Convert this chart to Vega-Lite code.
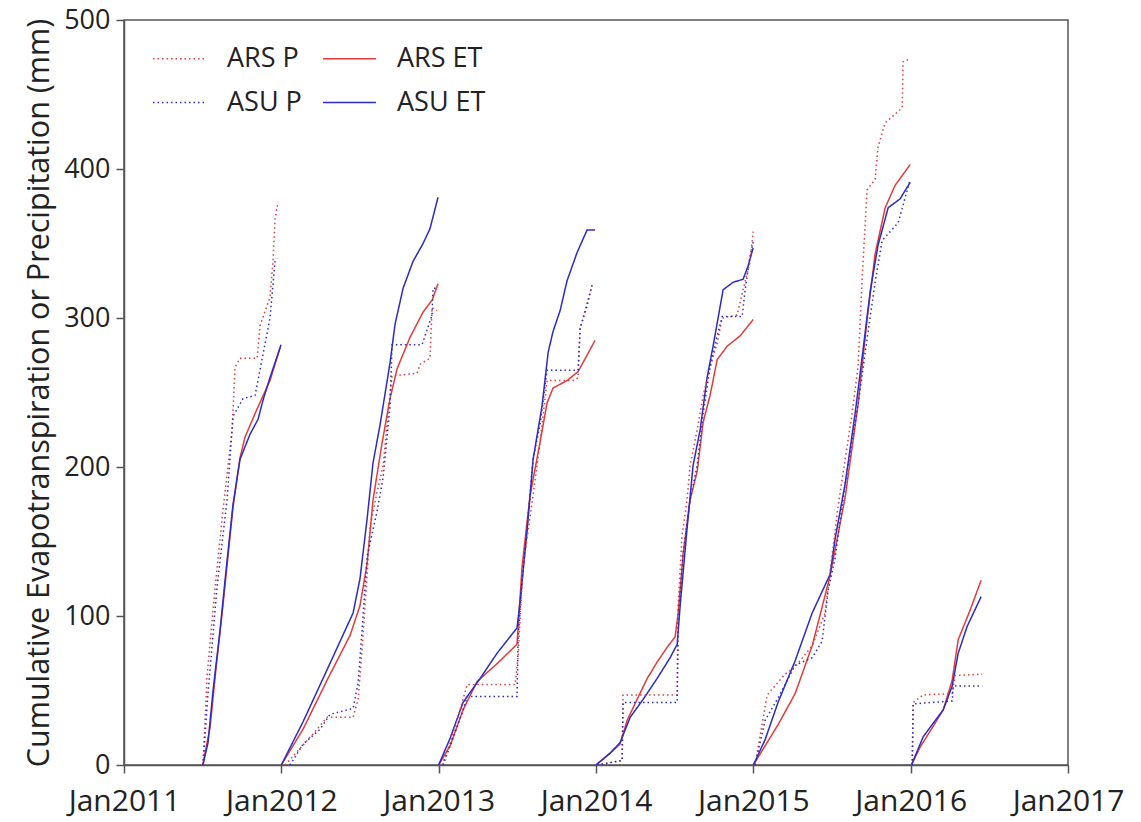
{
  "$schema": "https://vega.github.io/schema/vega-lite/v6.json",
  "width": 944,
  "height": 745,
  "autosize": {"type": "none"},
  "padding": {"left": 124, "top": 20, "right": 73, "bottom": 57},
  "background": "white",
  "datasets": {
    "pts": [
      {"s":"ARS ET","g":2011,"t":2011.500,"v":0},{"s":"ARS ET","g":2011,"t":2011.547,"v":25},{"s":"ARS ET","g":2011,"t":2011.585,"v":65},{"s":"ARS ET","g":2011,"t":2011.629,"v":107},{"s":"ARS ET","g":2011,"t":2011.693,"v":173},{"s":"ARS ET","g":2011,"t":2011.737,"v":206},{"s":"ARS ET","g":2011,"t":2011.769,"v":220},{"s":"ARS ET","g":2011,"t":2011.846,"v":239},{"s":"ARS ET","g":2011,"t":2011.928,"v":258},{"s":"ARS ET","g":2011,"t":2011.992,"v":280},
      {"s":"ASU ET","g":2011,"t":2011.502,"v":0},{"s":"ASU ET","g":2011,"t":2011.534,"v":15},{"s":"ASU ET","g":2011,"t":2011.566,"v":50},{"s":"ASU ET","g":2011,"t":2011.610,"v":90},{"s":"ASU ET","g":2011,"t":2011.648,"v":130},{"s":"ASU ET","g":2011,"t":2011.693,"v":175},{"s":"ASU ET","g":2011,"t":2011.737,"v":205},{"s":"ASU ET","g":2011,"t":2011.801,"v":222},{"s":"ASU ET","g":2011,"t":2011.852,"v":232},{"s":"ASU ET","g":2011,"t":2011.884,"v":245},{"s":"ASU ET","g":2011,"t":2011.928,"v":260},{"s":"ASU ET","g":2011,"t":2011.998,"v":282},
      {"s":"ARS P","g":2011,"t":2011.502,"v":0},{"s":"ARS P","g":2011,"t":2011.528,"v":60},{"s":"ARS P","g":2011,"t":2011.579,"v":119},{"s":"ARS P","g":2011,"t":2011.629,"v":171},{"s":"ARS P","g":2011,"t":2011.687,"v":225},{"s":"ARS P","g":2011,"t":2011.706,"v":267},{"s":"ARS P","g":2011,"t":2011.737,"v":273},{"s":"ARS P","g":2011,"t":2011.846,"v":273},{"s":"ARS P","g":2011,"t":2011.865,"v":295},{"s":"ARS P","g":2011,"t":2011.928,"v":314},{"s":"ARS P","g":2011,"t":2011.947,"v":338},{"s":"ARS P","g":2011,"t":2011.960,"v":366},{"s":"ARS P","g":2011,"t":2011.979,"v":378},
      {"s":"ASU P","g":2011,"t":2011.502,"v":0},{"s":"ASU P","g":2011,"t":2011.534,"v":48},{"s":"ASU P","g":2011,"t":2011.591,"v":119},{"s":"ASU P","g":2011,"t":2011.655,"v":178},{"s":"ASU P","g":2011,"t":2011.693,"v":234},{"s":"ASU P","g":2011,"t":2011.757,"v":246},{"s":"ASU P","g":2011,"t":2011.833,"v":248},{"s":"ASU P","g":2011,"t":2011.877,"v":272},{"s":"ASU P","g":2011,"t":2011.928,"v":300},{"s":"ASU P","g":2011,"t":2011.960,"v":338},{"s":"ASU P","g":2011,"t":2011.973,"v":340},

      {"s":"ARS ET","g":2012,"t":2012.000,"v":0},{"s":"ARS ET","g":2012,"t":2012.138,"v":24},{"s":"ARS ET","g":2012,"t":2012.291,"v":57},{"s":"ARS ET","g":2012,"t":2012.437,"v":87},{"s":"ARS ET","g":2012,"t":2012.500,"v":107},{"s":"ARS ET","g":2012,"t":2012.545,"v":135},{"s":"ARS ET","g":2012,"t":2012.583,"v":178},{"s":"ARS ET","g":2012,"t":2012.640,"v":216},{"s":"ARS ET","g":2012,"t":2012.691,"v":246},{"s":"ARS ET","g":2012,"t":2012.736,"v":266},{"s":"ARS ET","g":2012,"t":2012.818,"v":287},{"s":"ARS ET","g":2012,"t":2012.901,"v":304},{"s":"ARS ET","g":2012,"t":2012.958,"v":312},{"s":"ARS ET","g":2012,"t":2012.996,"v":323},
      {"s":"ASU ET","g":2012,"t":2012.000,"v":0},{"s":"ASU ET","g":2012,"t":2012.138,"v":29},{"s":"ASU ET","g":2012,"t":2012.291,"v":64},{"s":"ASU ET","g":2012,"t":2012.456,"v":102},{"s":"ASU ET","g":2012,"t":2012.500,"v":125},{"s":"ASU ET","g":2012,"t":2012.545,"v":165},{"s":"ASU ET","g":2012,"t":2012.583,"v":203},{"s":"ASU ET","g":2012,"t":2012.627,"v":228},{"s":"ASU ET","g":2012,"t":2012.691,"v":270},{"s":"ASU ET","g":2012,"t":2012.723,"v":296},{"s":"ASU ET","g":2012,"t":2012.774,"v":320},{"s":"ASU ET","g":2012,"t":2012.837,"v":338},{"s":"ASU ET","g":2012,"t":2012.901,"v":350},{"s":"ASU ET","g":2012,"t":2012.945,"v":360},{"s":"ASU ET","g":2012,"t":2012.996,"v":381},
      {"s":"ARS P","g":2012,"t":2012.024,"v":0},{"s":"ARS P","g":2012,"t":2012.119,"v":11},{"s":"ARS P","g":2012,"t":2012.202,"v":21},{"s":"ARS P","g":2012,"t":2012.291,"v":32},{"s":"ARS P","g":2012,"t":2012.456,"v":32},{"s":"ARS P","g":2012,"t":2012.488,"v":44},{"s":"ARS P","g":2012,"t":2012.513,"v":77},{"s":"ARS P","g":2012,"t":2012.545,"v":127},{"s":"ARS P","g":2012,"t":2012.564,"v":160},{"s":"ARS P","g":2012,"t":2012.608,"v":183},{"s":"ARS P","g":2012,"t":2012.647,"v":201},{"s":"ARS P","g":2012,"t":2012.678,"v":236},{"s":"ARS P","g":2012,"t":2012.704,"v":261},{"s":"ARS P","g":2012,"t":2012.863,"v":263},{"s":"ARS P","g":2012,"t":2012.882,"v":269},{"s":"ARS P","g":2012,"t":2012.945,"v":273},{"s":"ARS P","g":2012,"t":2012.958,"v":307},{"s":"ARS P","g":2012,"t":2012.990,"v":305},
      {"s":"ASU P","g":2012,"t":2012.055,"v":0},{"s":"ASU P","g":2012,"t":2012.138,"v":14},{"s":"ASU P","g":2012,"t":2012.246,"v":24},{"s":"ASU P","g":2012,"t":2012.310,"v":34},{"s":"ASU P","g":2012,"t":2012.456,"v":38},{"s":"ASU P","g":2012,"t":2012.488,"v":55},{"s":"ASU P","g":2012,"t":2012.513,"v":90},{"s":"ASU P","g":2012,"t":2012.545,"v":140},{"s":"ASU P","g":2012,"t":2012.608,"v":170},{"s":"ASU P","g":2012,"t":2012.647,"v":193},{"s":"ASU P","g":2012,"t":2012.691,"v":241},{"s":"ASU P","g":2012,"t":2012.704,"v":282},{"s":"ASU P","g":2012,"t":2012.894,"v":282},{"s":"ASU P","g":2012,"t":2012.926,"v":292},{"s":"ASU P","g":2012,"t":2012.958,"v":302},{"s":"ASU P","g":2012,"t":2012.964,"v":320},{"s":"ASU P","g":2012,"t":2012.996,"v":320},

      {"s":"ARS ET","g":2013,"t":2013.000,"v":0},{"s":"ARS ET","g":2013,"t":2013.073,"v":13},{"s":"ARS ET","g":2013,"t":2013.155,"v":37},{"s":"ARS ET","g":2013,"t":2013.244,"v":56},{"s":"ARS ET","g":2013,"t":2013.371,"v":68},{"s":"ARS ET","g":2013,"t":2013.498,"v":81},{"s":"ARS ET","g":2013,"t":2013.530,"v":133},{"s":"ARS ET","g":2013,"t":2013.581,"v":181},{"s":"ARS ET","g":2013,"t":2013.645,"v":217},{"s":"ARS ET","g":2013,"t":2013.689,"v":243},{"s":"ARS ET","g":2013,"t":2013.727,"v":253},{"s":"ARS ET","g":2013,"t":2013.816,"v":258},{"s":"ARS ET","g":2013,"t":2013.886,"v":264},{"s":"ARS ET","g":2013,"t":2013.943,"v":275},{"s":"ARS ET","g":2013,"t":2013.994,"v":285},
      {"s":"ASU ET","g":2013,"t":2013.000,"v":0},{"s":"ASU ET","g":2013,"t":2013.073,"v":18},{"s":"ASU ET","g":2013,"t":2013.155,"v":42},{"s":"ASU ET","g":2013,"t":2013.263,"v":58},{"s":"ASU ET","g":2013,"t":2013.371,"v":75},{"s":"ASU ET","g":2013,"t":2013.498,"v":92},{"s":"ASU ET","g":2013,"t":2013.517,"v":109},{"s":"ASU ET","g":2013,"t":2013.562,"v":157},{"s":"ASU ET","g":2013,"t":2013.600,"v":205},{"s":"ASU ET","g":2013,"t":2013.657,"v":241},{"s":"ASU ET","g":2013,"t":2013.696,"v":277},{"s":"ASU ET","g":2013,"t":2013.727,"v":291},{"s":"ASU ET","g":2013,"t":2013.772,"v":305},{"s":"ASU ET","g":2013,"t":2013.816,"v":325},{"s":"ASU ET","g":2013,"t":2013.880,"v":344},{"s":"ASU ET","g":2013,"t":2013.943,"v":359},{"s":"ASU ET","g":2013,"t":2013.994,"v":359},
      {"s":"ARS P","g":2013,"t":2013.022,"v":0},{"s":"ARS P","g":2013,"t":2013.073,"v":15},{"s":"ARS P","g":2013,"t":2013.136,"v":37},{"s":"ARS P","g":2013,"t":2013.181,"v":54},{"s":"ARS P","g":2013,"t":2013.486,"v":54},{"s":"ARS P","g":2013,"t":2013.505,"v":73},{"s":"ARS P","g":2013,"t":2013.517,"v":97},{"s":"ARS P","g":2013,"t":2013.537,"v":133},{"s":"ARS P","g":2013,"t":2013.600,"v":181},{"s":"ARS P","g":2013,"t":2013.645,"v":217},{"s":"ARS P","g":2013,"t":2013.689,"v":258},{"s":"ARS P","g":2013,"t":2013.854,"v":258},{"s":"ARS P","g":2013,"t":2013.886,"v":260},{"s":"ARS P","g":2013,"t":2013.899,"v":293},{"s":"ARS P","g":2013,"t":2013.943,"v":310},{"s":"ARS P","g":2013,"t":2013.975,"v":322},
      {"s":"ASU P","g":2013,"t":2013.028,"v":0},{"s":"ASU P","g":2013,"t":2013.092,"v":18},{"s":"ASU P","g":2013,"t":2013.155,"v":37},{"s":"ASU P","g":2013,"t":2013.181,"v":46},{"s":"ASU P","g":2013,"t":2013.498,"v":46},{"s":"ASU P","g":2013,"t":2013.505,"v":85},{"s":"ASU P","g":2013,"t":2013.537,"v":133},{"s":"ASU P","g":2013,"t":2013.581,"v":181},{"s":"ASU P","g":2013,"t":2013.600,"v":205},{"s":"ASU P","g":2013,"t":2013.645,"v":229},{"s":"ASU P","g":2013,"t":2013.689,"v":265},{"s":"ASU P","g":2013,"t":2013.886,"v":265},{"s":"ASU P","g":2013,"t":2013.899,"v":293},{"s":"ASU P","g":2013,"t":2013.943,"v":308},{"s":"ASU P","g":2013,"t":2013.975,"v":322},

      {"s":"ARS ET","g":2014,"t":2014.000,"v":0},{"s":"ARS ET","g":2014,"t":2014.090,"v":8},{"s":"ARS ET","g":2014,"t":2014.153,"v":14},{"s":"ARS ET","g":2014,"t":2014.198,"v":30},{"s":"ARS ET","g":2014,"t":2014.261,"v":44},{"s":"ARS ET","g":2014,"t":2014.325,"v":58},{"s":"ARS ET","g":2014,"t":2014.388,"v":69},{"s":"ARS ET","g":2014,"t":2014.452,"v":79},{"s":"ARS ET","g":2014,"t":2014.503,"v":86},{"s":"ARS ET","g":2014,"t":2014.522,"v":102},{"s":"ARS ET","g":2014,"t":2014.554,"v":142},{"s":"ARS ET","g":2014,"t":2014.598,"v":178},{"s":"ARS ET","g":2014,"t":2014.643,"v":197},{"s":"ARS ET","g":2014,"t":2014.681,"v":230},{"s":"ARS ET","g":2014,"t":2014.725,"v":248},{"s":"ARS ET","g":2014,"t":2014.770,"v":272},{"s":"ARS ET","g":2014,"t":2014.833,"v":281},{"s":"ARS ET","g":2014,"t":2014.916,"v":288},{"s":"ARS ET","g":2014,"t":2014.999,"v":299},
      {"s":"ASU ET","g":2014,"t":2014.000,"v":0},{"s":"ASU ET","g":2014,"t":2014.090,"v":8},{"s":"ASU ET","g":2014,"t":2014.153,"v":15},{"s":"ASU ET","g":2014,"t":2014.217,"v":32},{"s":"ASU ET","g":2014,"t":2014.299,"v":44},{"s":"ASU ET","g":2014,"t":2014.388,"v":58},{"s":"ASU ET","g":2014,"t":2014.471,"v":72},{"s":"ASU ET","g":2014,"t":2014.516,"v":81},{"s":"ASU ET","g":2014,"t":2014.535,"v":107},{"s":"ASU ET","g":2014,"t":2014.579,"v":159},{"s":"ASU ET","g":2014,"t":2014.617,"v":201},{"s":"ASU ET","g":2014,"t":2014.662,"v":225},{"s":"ASU ET","g":2014,"t":2014.706,"v":260},{"s":"ASU ET","g":2014,"t":2014.744,"v":281},{"s":"ASU ET","g":2014,"t":2014.776,"v":300},{"s":"ASU ET","g":2014,"t":2014.808,"v":319},{"s":"ASU ET","g":2014,"t":2014.872,"v":324},{"s":"ASU ET","g":2014,"t":2014.935,"v":326},{"s":"ASU ET","g":2014,"t":2014.967,"v":335},{"s":"ASU ET","g":2014,"t":2014.999,"v":347},
      {"s":"ARS P","g":2014,"t":2014.007,"v":0},{"s":"ARS P","g":2014,"t":2014.166,"v":3},{"s":"ARS P","g":2014,"t":2014.172,"v":47},{"s":"ARS P","g":2014,"t":2014.516,"v":47},{"s":"ARS P","g":2014,"t":2014.522,"v":107},{"s":"ARS P","g":2014,"t":2014.547,"v":154},{"s":"ARS P","g":2014,"t":2014.579,"v":178},{"s":"ARS P","g":2014,"t":2014.598,"v":201},{"s":"ARS P","g":2014,"t":2014.643,"v":225},{"s":"ARS P","g":2014,"t":2014.681,"v":248},{"s":"ARS P","g":2014,"t":2014.725,"v":267},{"s":"ARS P","g":2014,"t":2014.770,"v":283},{"s":"ARS P","g":2014,"t":2014.802,"v":300},{"s":"ARS P","g":2014,"t":2014.897,"v":302},{"s":"ARS P","g":2014,"t":2014.935,"v":319},{"s":"ARS P","g":2014,"t":2014.980,"v":338},{"s":"ARS P","g":2014,"t":2014.999,"v":358},
      {"s":"ASU P","g":2014,"t":2014.007,"v":0},{"s":"ASU P","g":2014,"t":2014.166,"v":3},{"s":"ASU P","g":2014,"t":2014.172,"v":42},{"s":"ASU P","g":2014,"t":2014.516,"v":42},{"s":"ASU P","g":2014,"t":2014.522,"v":95},{"s":"ASU P","g":2014,"t":2014.554,"v":142},{"s":"ASU P","g":2014,"t":2014.598,"v":178},{"s":"ASU P","g":2014,"t":2014.643,"v":201},{"s":"ASU P","g":2014,"t":2014.681,"v":236},{"s":"ASU P","g":2014,"t":2014.725,"v":267},{"s":"ASU P","g":2014,"t":2014.770,"v":288},{"s":"ASU P","g":2014,"t":2014.802,"v":301},{"s":"ASU P","g":2014,"t":2014.929,"v":301},{"s":"ASU P","g":2014,"t":2014.948,"v":319},{"s":"ASU P","g":2014,"t":2014.980,"v":342},{"s":"ASU P","g":2014,"t":2014.999,"v":351},

      {"s":"ARS ET","g":2015,"t":2015.000,"v":0},{"s":"ARS ET","g":2015,"t":2015.157,"v":27},{"s":"ARS ET","g":2015,"t":2015.266,"v":48},{"s":"ARS ET","g":2015,"t":2015.374,"v":80},{"s":"ARS ET","g":2015,"t":2015.488,"v":127},{"s":"ARS ET","g":2015,"t":2015.584,"v":180},{"s":"ARS ET","g":2015,"t":2015.666,"v":242},{"s":"ARS ET","g":2015,"t":2015.723,"v":299},{"s":"ARS ET","g":2015,"t":2015.774,"v":343},{"s":"ARS ET","g":2015,"t":2015.838,"v":374},{"s":"ARS ET","g":2015,"t":2015.901,"v":389},{"s":"ARS ET","g":2015,"t":2015.997,"v":403},
      {"s":"ASU ET","g":2015,"t":2015.000,"v":0},{"s":"ASU ET","g":2015,"t":2015.075,"v":17},{"s":"ASU ET","g":2015,"t":2015.157,"v":42},{"s":"ASU ET","g":2015,"t":2015.266,"v":70},{"s":"ASU ET","g":2015,"t":2015.374,"v":102},{"s":"ASU ET","g":2015,"t":2015.488,"v":128},{"s":"ASU ET","g":2015,"t":2015.520,"v":152},{"s":"ASU ET","g":2015,"t":2015.584,"v":189},{"s":"ASU ET","g":2015,"t":2015.647,"v":236},{"s":"ASU ET","g":2015,"t":2015.692,"v":274},{"s":"ASU ET","g":2015,"t":2015.743,"v":318},{"s":"ASU ET","g":2015,"t":2015.793,"v":349},{"s":"ASU ET","g":2015,"t":2015.857,"v":374},{"s":"ASU ET","g":2015,"t":2015.933,"v":380},{"s":"ASU ET","g":2015,"t":2015.997,"v":391},
      {"s":"ARS P","g":2015,"t":2015.011,"v":0},{"s":"ARS P","g":2015,"t":2015.088,"v":47},{"s":"ARS P","g":2015,"t":2015.202,"v":61},{"s":"ARS P","g":2015,"t":2015.266,"v":66},{"s":"ARS P","g":2015,"t":2015.374,"v":80},{"s":"ARS P","g":2015,"t":2015.456,"v":102},{"s":"ARS P","g":2015,"t":2015.488,"v":130},{"s":"ARS P","g":2015,"t":2015.539,"v":174},{"s":"ARS P","g":2015,"t":2015.628,"v":236},{"s":"ARS P","g":2015,"t":2015.666,"v":268},{"s":"ARS P","g":2015,"t":2015.692,"v":327},{"s":"ARS P","g":2015,"t":2015.723,"v":386},{"s":"ARS P","g":2015,"t":2015.774,"v":393},{"s":"ARS P","g":2015,"t":2015.793,"v":415},{"s":"ARS P","g":2015,"t":2015.838,"v":431},{"s":"ARS P","g":2015,"t":2015.946,"v":441},{"s":"ARS P","g":2015,"t":2015.952,"v":472},{"s":"ARS P","g":2015,"t":2015.997,"v":474},
      {"s":"ASU P","g":2015,"t":2015.011,"v":0},{"s":"ASU P","g":2015,"t":2015.075,"v":30},{"s":"ASU P","g":2015,"t":2015.157,"v":45},{"s":"ASU P","g":2015,"t":2015.266,"v":67},{"s":"ASU P","g":2015,"t":2015.374,"v":72},{"s":"ASU P","g":2015,"t":2015.437,"v":83},{"s":"ASU P","g":2015,"t":2015.475,"v":117},{"s":"ASU P","g":2015,"t":2015.520,"v":139},{"s":"ASU P","g":2015,"t":2015.584,"v":189},{"s":"ASU P","g":2015,"t":2015.666,"v":242},{"s":"ASU P","g":2015,"t":2015.723,"v":286},{"s":"ASU P","g":2015,"t":2015.774,"v":324},{"s":"ASU P","g":2015,"t":2015.819,"v":352},{"s":"ASU P","g":2015,"t":2015.921,"v":364},{"s":"ASU P","g":2015,"t":2015.997,"v":393},

      {"s":"ARS ET","g":2016,"t":2016.005,"v":0},{"s":"ARS ET","g":2016,"t":2016.060,"v":12},{"s":"ARS ET","g":2016,"t":2016.143,"v":26},{"s":"ARS ET","g":2016,"t":2016.207,"v":37},{"s":"ARS ET","g":2016,"t":2016.264,"v":57},{"s":"ARS ET","g":2016,"t":2016.302,"v":84},{"s":"ARS ET","g":2016,"t":2016.378,"v":104},{"s":"ARS ET","g":2016,"t":2016.448,"v":124},
      {"s":"ASU ET","g":2016,"t":2016.005,"v":0},{"s":"ASU ET","g":2016,"t":2016.080,"v":19},{"s":"ASU ET","g":2016,"t":2016.143,"v":28},{"s":"ASU ET","g":2016,"t":2016.207,"v":37},{"s":"ASU ET","g":2016,"t":2016.264,"v":53},{"s":"ASU ET","g":2016,"t":2016.302,"v":75},{"s":"ASU ET","g":2016,"t":2016.359,"v":93},{"s":"ASU ET","g":2016,"t":2016.448,"v":113},
      {"s":"ARS P","g":2016,"t":2016.010,"v":0},{"s":"ARS P","g":2016,"t":2016.016,"v":42},{"s":"ARS P","g":2016,"t":2016.080,"v":47},{"s":"ARS P","g":2016,"t":2016.264,"v":48},{"s":"ARS P","g":2016,"t":2016.283,"v":60},{"s":"ARS P","g":2016,"t":2016.455,"v":61},
      {"s":"ASU P","g":2016,"t":2016.010,"v":0},{"s":"ASU P","g":2016,"t":2016.016,"v":41},{"s":"ASU P","g":2016,"t":2016.264,"v":43},{"s":"ASU P","g":2016,"t":2016.270,"v":53},{"s":"ASU P","g":2016,"t":2016.455,"v":53}
    ]
  },
  "data": {"name": "pts"},
  "mark": {"type": "line", "strokeWidth": 1.5, "clip": true},
  "encoding": {
    "x": {
      "field": "t", "type": "quantitative",
      "scale": {"domain": [2011, 2017], "nice": false, "zero": false},
      "axis": {
        "title": null,
        "values": [2011, 2012, 2013, 2014, 2015, 2016, 2017],
        "labelExpr": "'Jan' + datum.value",
        "labelFlush": false,
        "labelOverlap": false,
        "labelFontSize": 30,
        "labelPadding": 13
      }
    },
    "y": {
      "field": "v", "type": "quantitative",
      "scale": {"domain": [0, 500], "nice": false},
      "axis": {
        "title": "Cumulative Evapotranspiration or Precipitation (mm)",
        "values": [0, 100, 200, 300, 400, 500],
        "labelPadding": 6,
        "titleFontSize": 30.5,
        "titlePadding": 9
      }
    },
    "color": {
      "field": "s", "type": "nominal",
      "scale": {"domain": ["ARS P", "ASU P", "ARS ET", "ASU ET"], "range": ["#e23b3b", "#2b2bc6", "#e23b3b", "#2b2bc6"]},
      "legend": {
        "title": null,
        "orient": "none",
        "legendX": 28,
        "legendY": 11,
        "columns": 2,
        "symbolType": "stroke",
        "symbolSize": 2800,
        "symbolStrokeWidth": 1.5,
        "labelFontSize": 27,
        "labelColor": "#222",
        "labelOffset": 20,
        "columnPadding": 18,
        "rowPadding": 3
      }
    },
    "strokeDash": {
      "field": "s", "type": "nominal",
      "scale": {"domain": ["ARS P", "ASU P", "ARS ET", "ASU ET"], "range": [[1.5, 3], [1.5, 3], [1, 0], [1, 0]]},
      "legend": null
    },
    "detail": {"field": "g", "type": "nominal"}
  },
  "config": {
    "font": "Open Sans",
    "view": {"stroke": "#555", "strokeWidth": 1.5},
    "axis": {
      "grid": false,
      "domainColor": "#555",
      "domainWidth": 1.5,
      "tickColor": "#555",
      "tickWidth": 1.5,
      "tickSize": 8,
      "labelFontSize": 27,
      "labelColor": "#222",
      "titleFontSize": 27,
      "titleFontWeight": "normal",
      "titleColor": "#222"
    }
  }
}
